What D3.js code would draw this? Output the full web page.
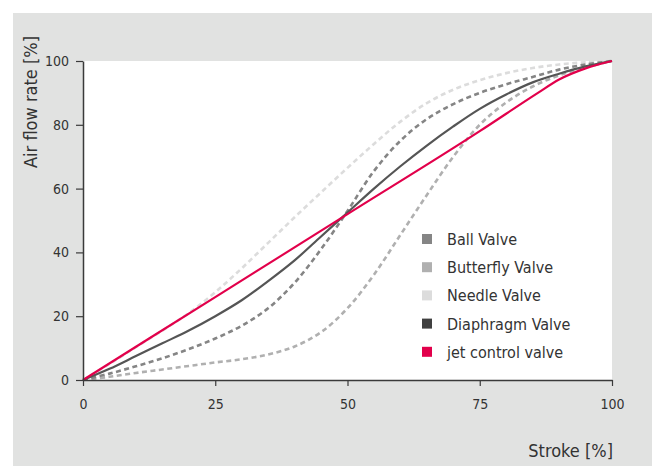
<!DOCTYPE html>
<html lang="en">
<head>
<meta charset="UTF-8">
<title>Valve flow characteristics</title>
<script src="https://cdn.jsdelivr.net/npm/d3@7"></script>
<style>
  html,body{ margin:0; padding:0; background:#fff; }
  svg{ display:block; }
  text{ font-family:"DejaVu Sans Condensed","Liberation Sans Narrow","Open Sans",sans-serif; fill:#333; }
</style>
</head>
<body>
<div id="chart"></div>
<script>
// stroke positions (x) and flow for each valve (y)
var stroke      = [0, 5, 10, 15, 20, 25, 30, 35, 40, 45, 50, 55, 60, 65, 70, 75, 80, 85, 90, 95, 100];
var ballValve   = [0, 2, 4.3, 6.8, 9.7, 13, 17, 22.5, 30.5, 41, 53, 65.5, 75, 81.8, 86.5, 90, 92.7, 95, 97.3, 98.9, 100];
var butterfly   = [0, 1, 2.2, 3.3, 4.4, 5.5, 6.5, 8, 10.5, 15, 22.5, 33, 45.5, 58, 70, 80, 87, 92, 95.5, 98, 100];
var needleValve = [0, 5, 10.3, 15.5, 21, 27.5, 35, 43, 51, 58.8, 66.5, 74, 81, 86.8, 91, 94, 96.2, 97.8, 98.9, 99.6, 100];
var diaphragm   = [0, 3.5, 7.5, 11.5, 15.5, 20, 25, 31, 37.5, 45, 52.5, 60, 67, 73.5, 79.5, 85, 89.5, 93.3, 96, 98.3, 100];
var jetStroke   = [0, 25, 50, 75, 86, 90, 95, 100];
var jetValve    = [0, 26, 52, 78, 90, 94.2, 97.7, 100];

var seriesNames = ["Ball Valve", "Butterfly Valve", "Needle Valve", "Diaphragm Valve", "jet control valve"];
var seriesColors = ["#858585", "#b0b0b0", "#dcdcdc", "#404040", "#e2004b"];
var xTicks = [0, 25, 50, 75, 100];
var yTicks = [0, 20, 40, 60, 80, 100];

var W = 652, H = 466;
var svg = d3.select("#chart").append("svg").attr("width", W).attr("height", H);

// grey panel and white plot area
svg.append("rect").attr("x", 13).attr("y", 13).attr("width", W - 13).attr("height", H - 13).attr("fill", "#e1e2e1");

var x = d3.scaleLinear().domain([0, 100]).range([83, 612]);
var y = d3.scaleLinear().domain([0, 100]).range([380, 61]);

svg.append("rect").attr("x", x(0)).attr("y", y(100))
  .attr("width", x(100) - x(0)).attr("height", y(0) - y(100)).attr("fill", "#fff");

// lines
function makeLine(curve){
  return d3.line()
    .x(function(d){ return x(d[0]); })
    .y(function(d){ return y(d[1]); })
    .curve(curve);
}
var smooth = makeLine(d3.curveCatmullRom.alpha(0.5));
var straight = makeLine(d3.curveMonotoneX);

function pairs(xs, ys){
  return xs.map(function(v, i){ return [v, ys[i]]; });
}

var lines = [
  { data: pairs(stroke, butterfly),   color: seriesColors[1], dash: "5,3.5", w: 2.6, gen: smooth },
  { data: pairs(stroke, needleValve), color: seriesColors[2], dash: "5,3.5", w: 2.6, gen: smooth },
  { data: pairs(stroke, ballValve),   color: seriesColors[0], dash: "5,3.5", w: 2.6, gen: smooth },
  { data: pairs(stroke, diaphragm),   color: "#555555",       dash: null,    w: 2.2, gen: smooth },
  { data: pairs(jetStroke, jetValve), color: seriesColors[4], dash: null,    w: 2.2, gen: straight }
];

lines.forEach(function(l){
  svg.append("path")
    .attr("d", l.gen(l.data))
    .attr("fill", "none")
    .attr("stroke", l.color)
    .attr("stroke-width", l.w)
    .attr("stroke-dasharray", l.dash);
});

// axes
var yAxis = svg.append("g").attr("transform", "translate(" + x(0) + ",0)")
  .call(d3.axisLeft(y).tickValues(yTicks).tickSize(7).tickSizeOuter(0).tickPadding(7));
var xAxis = svg.append("g").attr("transform", "translate(0," + y(0) + ")")
  .call(d3.axisBottom(x).tickValues(xTicks).tickSize(6).tickSizeOuter(0).tickPadding(13));

[yAxis, xAxis].forEach(function(a){
  a.selectAll(".domain").attr("stroke", "#3a3a3a").attr("stroke-width", 1.5);
  a.selectAll(".tick line").attr("stroke", "#3a3a3a").attr("stroke-width", 1.2);
  a.selectAll("text").attr("font-family", null).style("font-size", "14px").attr("fill", "#333");
});

// axis titles
svg.append("text")
  .attr("transform", "translate(37,102) rotate(-90)")
  .attr("text-anchor", "middle")
  .style("font-size", "18px")
  .text("Air flow rate [%]");

svg.append("text")
  .attr("x", 613).attr("y", 457)
  .attr("text-anchor", "end")
  .style("font-size", "18px")
  .text("Stroke [%]");

// legend
var legend = svg.append("g").attr("transform", "translate(422,239)");
seriesNames.forEach(function(name, i){
  var row = legend.append("g").attr("transform", "translate(0," + (i * 28.2) + ")");
  row.append("rect").attr("x", 0).attr("y", -5).attr("width", 10).attr("height", 10)
    .attr("fill", seriesColors[i]);
  row.append("text").attr("x", 25).attr("y", 6).style("font-size", "16px").text(name);
});
</script>
</body>
</html>
